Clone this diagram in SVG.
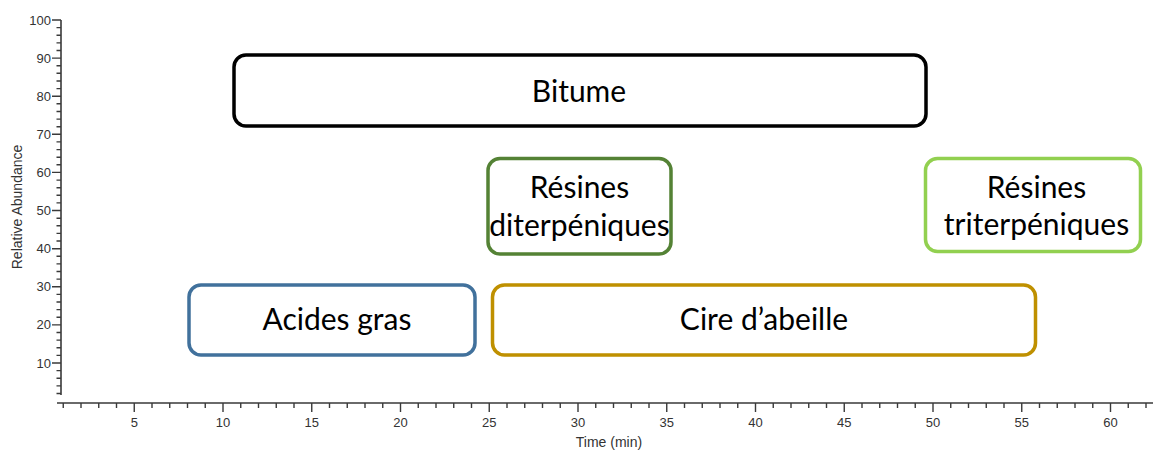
<svg xmlns="http://www.w3.org/2000/svg" width="1157" height="450" viewBox="0 0 1157 450">
<style>
.axis{stroke:#3a3a3a;stroke-width:1.6;fill:none}
.tick{stroke:#3a3a3a;stroke-width:1.4;fill:none}
.tl{font-family:"Liberation Sans",Arial,sans-serif;font-size:13px;fill:#333}
.at{font-family:"Liberation Sans",Arial,sans-serif;font-size:14px;fill:#333}
.box{fill:#fff;stroke-width:3.5}
.lbl{font-family:Lato,"Open Sans",sans-serif;font-size:30px;fill:#000;text-anchor:middle}
</style>
<rect width="1157" height="450" fill="#fff"/>
<g id="axes">
<path class="axis" d="M61,20 V395 M57,403 H1153"/>
<path class="tick" d="M52,20H61M52,58.1H61M52,96.2H61M52,134.3H61M52,172.4H61M52,210.5H61M52,248.7H61M52,286.8H61M52,324.9H61M52,363H61"/>
<path class="tick" d="M56.5,393.5H61M56.5,385.9H61M56.5,378.2H61M56.5,370.6H61M56.5,355.4H61M56.5,347.7H61M56.5,340.1H61M56.5,332.5H61M56.5,317.3H61M56.5,309.6H61M56.5,302H61M56.5,294.4H61M56.5,279.1H61M56.5,271.5H61M56.5,263.9H61M56.5,256.3H61M56.5,241H61M56.5,233.4H61M56.5,225.8H61M56.5,218.2H61M56.5,202.9H61M56.5,195.3H61M56.5,187.7H61M56.5,180.1H61M56.5,164.8H61M56.5,157.2H61M56.5,149.6H61M56.5,141.9H61M56.5,126.7H61M56.5,119.1H61M56.5,111.5H61M56.5,103.8H61M56.5,88.6H61M56.5,81H61M56.5,73.3H61M56.5,65.7H61M56.5,50.5H61M56.5,42.9H61M56.5,35.2H61M56.5,27.6H61"/>
<path class="tick" d="M134.25,403V412M223,403V412M311.75,403V412M400.5,403V412M489.25,403V412M578,403V412M666.75,403V412M755.5,403V412M844.25,403V412M933,403V412M1021.75,403V412M1110.5,403V412"/>
<path class="tick" d="M63.25,403V408M81,403V408M98.75,403V408M116.5,403V408M152,403V408M169.75,403V408M187.5,403V408M205.25,403V408M240.75,403V408M258.5,403V408M276.25,403V408M294,403V408M329.5,403V408M347.25,403V408M365,403V408M382.75,403V408M418.25,403V408M436,403V408M453.75,403V408M471.5,403V408M507,403V408M524.75,403V408M542.5,403V408M560.25,403V408M595.75,403V408M613.5,403V408M631.25,403V408M649,403V408M684.5,403V408M702.25,403V408M720,403V408M737.75,403V408M773.25,403V408M791,403V408M808.75,403V408M826.5,403V408M862,403V408M879.75,403V408M897.5,403V408M915.25,403V408M950.75,403V408M968.5,403V408M986.25,403V408M1004,403V408M1039.5,403V408M1057.25,403V408M1075,403V408M1092.75,403V408M1128.25,403V408M1146,403V408"/>
<g class="tl" text-anchor="end">
<text x="51" y="24.5">100</text>
<text x="51" y="62.6">90</text>
<text x="51" y="100.7">80</text>
<text x="51" y="138.8">70</text>
<text x="51" y="176.9">60</text>
<text x="51" y="215">50</text>
<text x="51" y="253.2">40</text>
<text x="51" y="291.3">30</text>
<text x="51" y="329.4">20</text>
<text x="51" y="367.5">10</text>
</g>
<g class="tl" text-anchor="middle">
<text x="134.25" y="427">5</text>
<text x="223" y="427">10</text>
<text x="311.75" y="427">15</text>
<text x="400.5" y="427">20</text>
<text x="489.25" y="427">25</text>
<text x="578" y="427">30</text>
<text x="666.75" y="427">35</text>
<text x="755.5" y="427">40</text>
<text x="844.25" y="427">45</text>
<text x="933" y="427">50</text>
<text x="1021.75" y="427">55</text>
<text x="1110.5" y="427">60</text>
</g>
<text class="at" x="609" y="447" text-anchor="middle">Time (min)</text>
<text class="at" transform="translate(22,207) rotate(-90)" text-anchor="middle">Relative Abundance</text>
</g>
<g id="bitume">
<rect class="box" x="234" y="55" width="692" height="71" rx="12" stroke="#000"/>
<text class="lbl" x="579" y="102">Bitume</text>
</g>
<g id="resines-diterpeniques">
<rect class="box" x="488" y="158.5" width="183" height="95.5" rx="12" stroke="#548235"/>
<text class="lbl" x="579.5" y="198">Résines</text>
<text class="lbl" x="579.5" y="236">diterpéniques</text>
</g>
<g id="resines-triterpeniques">
<rect class="box" x="925.5" y="158.5" width="215" height="93" rx="12" stroke="#92D050"/>
<text class="lbl" x="1036.5" y="198">Résines</text>
<text class="lbl" x="1036.5" y="235">triterpéniques</text>
</g>
<g id="acides-gras">
<rect class="box" x="189" y="285" width="286" height="70" rx="12" stroke="#41719C"/>
<text class="lbl" x="337" y="330">Acides gras</text>
</g>
<g id="cire-abeille">
<rect class="box" x="492.5" y="285" width="543" height="70" rx="12" stroke="#BF9000"/>
<text class="lbl" x="764" y="330">Cire d’abeille</text>
</g>
<g id="connectors"></g>
</svg>
